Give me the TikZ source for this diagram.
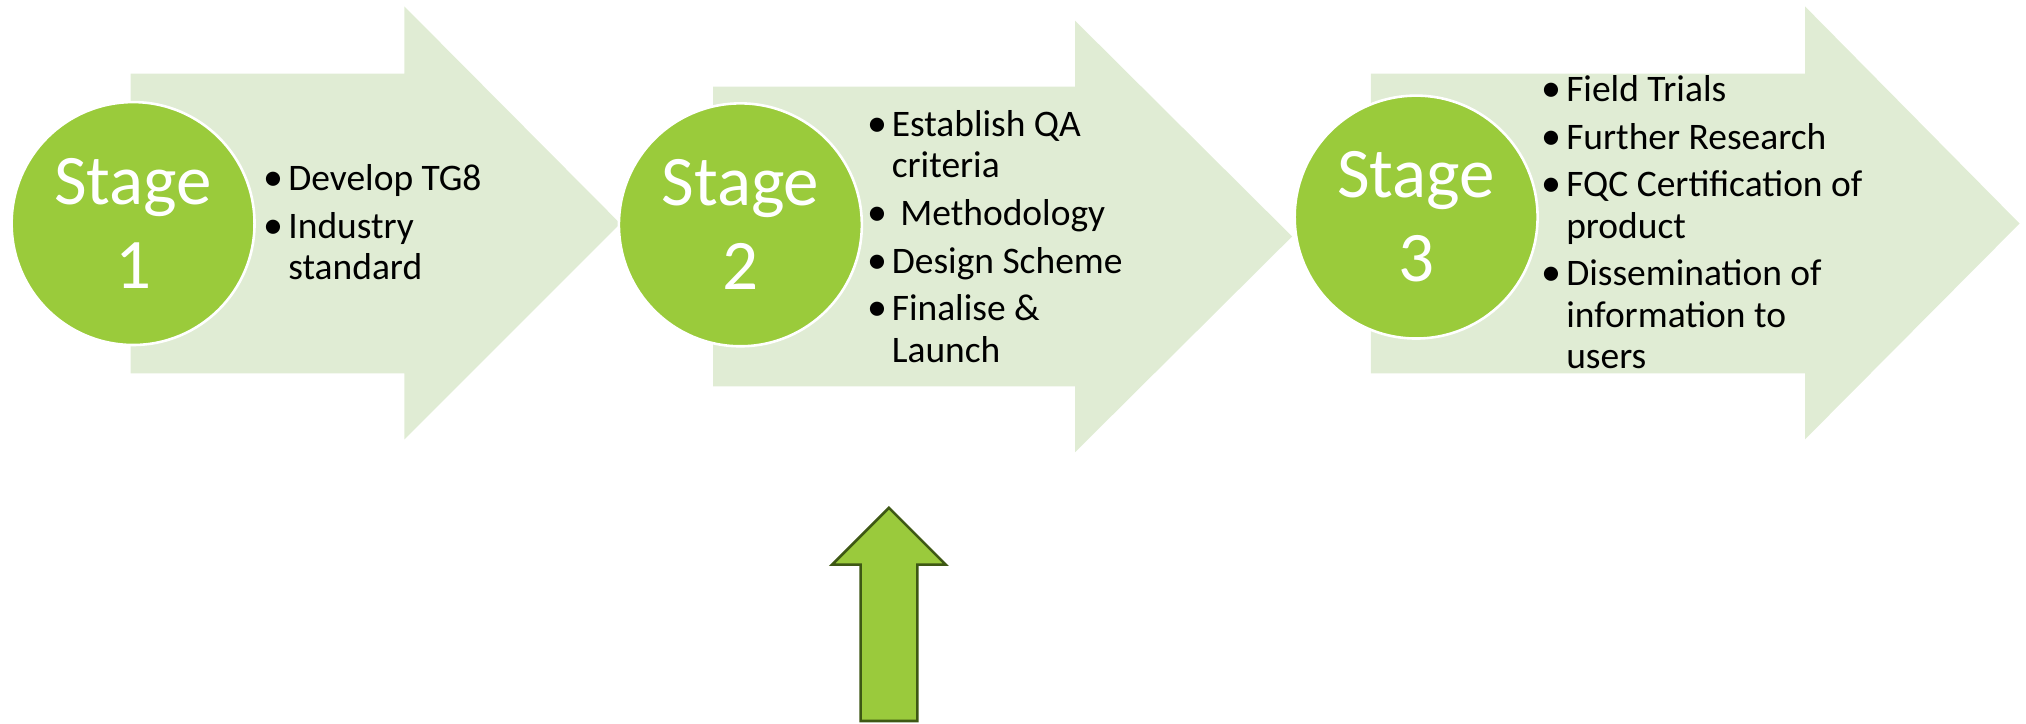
\documentclass[tikz,border=0pt]{standalone}
\usepackage{fontspec}
\setmainfont{Carlito}
\definecolor{lightarrow}{RGB}{224,236,212}
\definecolor{stagegreen}{RGB}{154,203,59}
\definecolor{uparrowfill}{RGB}{154,202,60}
\definecolor{uparrowline}{RGB}{62,88,20}
\newcommand{\bul}[1]{\makebox[17pt][l]{\hspace{-2pt}{\fontsize{31}{32}\selectfont\textbullet}}#1}
\newcommand{\cont}[1]{\hspace*{17pt}#1}
\begin{document}
\begin{tikzpicture}[x=1pt,y=-1pt,
  bigarrow/.style={fill=lightarrow,draw=none},
  stagecircle/.style={circle,fill=stagegreen,draw=white,line width=2pt,minimum size=188pt,inner sep=0pt,
    text=white,font=\fontsize{55}{65}\selectfont,align=center},
  bullets/.style={anchor=north west,inner sep=0pt,align=left,font=\fontsize{29}{32}\selectfont,text=black}]
\useasboundingbox (0,0) rectangle (1568,560);
% stage arrows
\fill[bigarrow] (101,57) -- (313,57) -- (313,5) -- (480,173) -- (313,340) -- (313,289) -- (101,289) -- cycle;
\node[stagecircle] (s1) at (103,173) {Stage\\1};
\node[bullets] (b1) at (206,127) {\bul{Develop TG8}\\[5pt]\bul{Industry}\\\cont{standard}};

\fill[bigarrow] (552,67) -- (832,67) -- (832,16) -- (1000,183) -- (832,350) -- (832,299) -- (552,299) -- cycle;
\node[stagecircle] (s2) at (573,174) {Stage\\2};
\node[bullets] (b2) at (673,85) {\bul{Establish QA}\\\cont{criteria}\\[5pt]\bul{\ Methodology}\\[5pt]\bul{Design Scheme}\\[5pt]\bul{Finalise \&}\\\cont{Launch}};

\fill[bigarrow] (1061,57) -- (1397,57) -- (1397,5) -- (1563,173) -- (1397,340) -- (1397,289) -- (1061,289) -- cycle;
\node[stagecircle] (s3) at (1096,168) {Stage\\3};
\node[bullets] (b3) at (1195,58) {\bul{Field Trials}\\[5pt]\bul{Further Research}\\[5pt]\bul{FQC Certification of}\\\cont{product}\\[5pt]\bul{Dissemination of}\\\cont{information to}\\\cont{users}};

% up arrow
\draw[fill=uparrowfill,draw=uparrowline,line width=2pt,line join=miter]
  (666,558) -- (666,437) -- (644,437) -- (688,393) -- (732,437) -- (710,437) -- (710,558) -- cycle;
\end{tikzpicture}
\end{document}
